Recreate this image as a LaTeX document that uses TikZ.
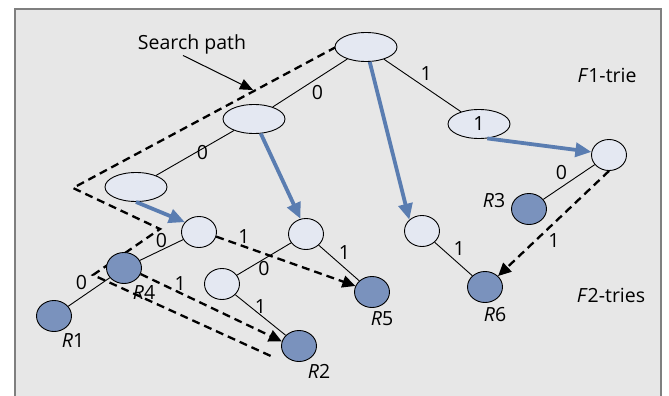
\documentclass[tikz,border=0pt]{standalone}
\usepackage{fontspec}
\setmainfont{Open Sans}
\usetikzlibrary{shapes.geometric,arrows.meta}
\definecolor{panelgray}{HTML}{E7E7E7}
\definecolor{framegray}{HTML}{7F7F7F}
\definecolor{nodelight}{HTML}{E4E8F2}
\definecolor{nodedark}{HTML}{7A92BD}
\definecolor{jumpblue}{HTML}{5A7DB1}
\newcommand{\Rleaf}[1]{\textit{R}#1}
\newcommand{\Ftrie}[1]{\textit{F}#1}

\begin{document}
\begin{tikzpicture}[x=1pt,y=-1pt,
  every node/.style={font=\fontsize{19.5}{23}\selectfont,inner sep=1.5pt},
  bignode/.style={ellipse,draw,line width=0.9pt,fill=nodelight,minimum width=62pt,minimum height=29pt,inner sep=0pt},
  trienode/.style={ellipse,draw,line width=0.9pt,fill=nodelight,minimum width=35pt,minimum height=31pt,inner sep=0pt},
  leafnode/.style={trienode,fill=nodedark},
  branch/.style={draw,line width=0.9pt},
  jump/.style={draw=jumpblue,line width=3.8pt,-{Triangle[length=16pt,width=14pt]}},
  link/.style={draw,dash pattern=on 8pt off 5pt,line width=2.3pt,-{Triangle[length=13pt,width=12pt]}},
  searchline/.style={draw,dash pattern=on 8pt off 5pt,line width=2.3pt}]
\useasboundingbox (0,0) rectangle (669,396);
\fill[panelgray] (15,9) rectangle (661,396);
\draw[framegray,line width=1.2pt] (15,396) -- (15,9) -- (661,9) -- (661,396);

\coordinate (sp-1) at (336,47);
\coordinate (sp-2) at (73,188);
\coordinate (sp-3) at (160,229);
\coordinate (sp-4) at (93,275);
\coordinate (sp-5) at (273,357);
\coordinate (sp-tip) at (253,90);
\path[searchline] (sp-1) -- (sp-2) -- (sp-3) -- (sp-4) -- (sp-5);

\node[bignode] (root) at (366,47) {};
\node[bignode] (L1) at (254,119) {};
\node[bignode] (L2) at (136,187) {};
\node[bignode] (one) at (479,124) {1};
\node[trienode] (Rc) at (609,155) {};
\node[leafnode] (R3) at (529,209) {};

\node[trienode] (A) at (199,232) {};
\node[leafnode] (R4) at (124,268) {};
\node[leafnode] (R1) at (54,316) {};
\node[trienode] (B) at (306,234) {};
\node[trienode] (C) at (222,284) {};
\node[leafnode] (R5) at (372,292) {};
\node[leafnode] (R2) at (299,346) {};
\node[trienode] (D) at (422,231) {};
\node[leafnode] (R6) at (485,287) {};

\node (R1-lab) at (73,341) {\Rleaf{1}};
\node (R2-lab) at (319,371) {\Rleaf{2}};
\node (R3-lab) at (494,201) {\Rleaf{3}};
\node (R4-lab) at (144,292) {\Rleaf{4}};
\node (R5-lab) at (382,319) {\Rleaf{5}};
\node (R6-lab) at (495,315) {\Rleaf{6}};
\node (F1-lab) at (607,75) {\Ftrie{1}-trie};
\node (F2-lab) at (611,295) {\Ftrie{2}-tries};
\node (search) at (192,44) {Search path};

\path (root) edge [branch,below right,inner sep=0pt] node {0} (L1);
\path (L1) edge [branch,right] node {0} (L2);
\path (root) edge [branch,above right] node[pos=.45] {1} (one);
\path (Rc) edge [branch,above left] node {0} (R3);
\path (A) edge [branch,above] node {0} (R4);
\path (R4) edge [branch,above left] node {0} (R1);
\path (B) edge [branch,below=6pt] node {0} (C);
\path (B) edge [branch,above right=3pt] node[pos=.45] {1} (R5);
\path (C) edge [branch,above] node {1} (R2);
\path (D) edge [branch,above right=3pt] node[pos=.45] {1} (R6);

\path (root) edge [jump] (D.north west);
\path (L1) edge [jump] (B.110);
\path (L2.south) edge [jump] (A.145);
\path (one.-60) edge [jump] (Rc.170);

\path (Rc.south) edge [link,anchor=north west,inner sep=6pt] node[pos=.57] {1} (R6.40);
\path (A.-15) edge [link,above] node[pos=.2] {1} (R5.160);
\path (R4.-20) edge [link,above] node[pos=.28] {1} (R2.165);

\draw[line width=1pt,-{Triangle[length=13pt,width=11pt]}] ([xshift=-9pt]search.south) -- (sp-tip);
\end{tikzpicture}
\end{document}
